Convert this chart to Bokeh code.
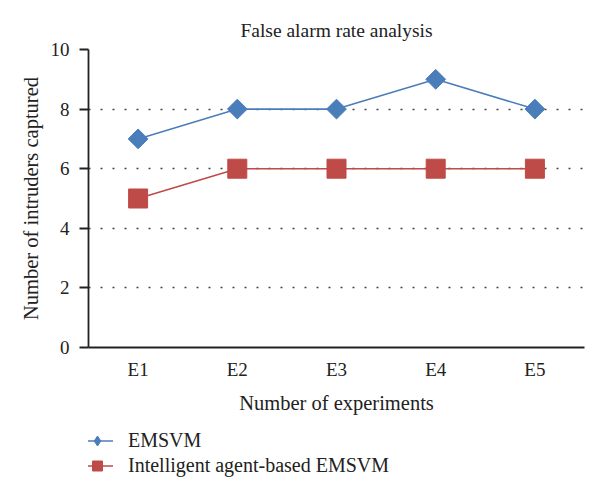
from bokeh.plotting import figure
from bokeh.models import ColumnDataSource, FixedTicker, Legend, LegendItem, Range1d
from bokeh.layouts import column
from bokeh.embed import file_html
from bokeh.resources import INLINE
import math

experiments = ["E1", "E2", "E3", "E4", "E5"]
emsvm = [7, 8, 8, 9, 8]
agent_emsvm = [5, 6, 6, 6, 6]
y_ticks = [0, 2, 4, 6, 8, 10]
series_names = ["EMSVM", "Intelligent agent-based EMSVM"]

FONT = "Liberation Serif"
BLUE = "#4A7EBB"
RED = "#BE4B48"

src = ColumnDataSource(dict(x=experiments, a=emsvm, b=agent_emsvm))

p = figure(width=600, height=420, x_range=experiments, y_range=Range1d(0, 10),
           output_backend="svg", toolbar_location=None,
           title="False alarm rate analysis",
           min_border_left=88, min_border_right=16, min_border_top=49, min_border_bottom=73)

p.title.align = "center"
p.title.text_font = FONT
p.title.text_font_size = "19.5px"
p.title.text_font_style = "normal"
p.title.text_color = "#222222"
p.title.offset = 0
p.title.standoff = 6
p.title.padding = 6

p.outline_line_color = None
p.xgrid.grid_line_color = None
p.ygrid.grid_line_color = "#444444"
p.ygrid.grid_line_dash = "2 10"
p.ygrid.grid_line_width = 1.3
p.ygrid.ticker = FixedTicker(ticks=y_ticks)

p.yaxis.ticker = FixedTicker(ticks=y_ticks)
p.yaxis.minor_tick_line_color = None
p.yaxis.major_tick_out = 9
p.yaxis.major_tick_in = 0
p.yaxis.major_label_standoff = 10
p.yaxis.axis_label = "Number of intruders captured"
p.yaxis.axis_label_standoff = 6

p.xaxis.major_tick_out = 0
p.xaxis.major_tick_in = 0
p.xaxis.major_label_standoff = 11
p.xaxis.axis_label = "Number of experiments"
p.xaxis.axis_label_standoff = 9

for ax in (p.xaxis, p.yaxis):
    ax.axis_line_color = "#222222"
    ax.axis_line_width = 1.8
    ax.major_tick_line_color = "#222222"
    ax.major_tick_line_width = 1.8
    ax.major_label_text_font = FONT
    ax.major_label_text_font_size = "19px"
    ax.major_label_text_color = "#222222"
    ax.axis_label_text_font = FONT
    ax.axis_label_text_font_size = "20.5px"
    ax.axis_label_text_font_style = "normal"
    ax.axis_label_text_color = "#222222"

p.line("x", "a", source=src, line_color=BLUE, line_width=1.6)
p.scatter("x", "a", source=src, marker="square", angle=math.pi / 4, size=14,
          fill_color=BLUE, line_color=BLUE)
p.line("x", "b", source=src, line_color=RED, line_width=1.6)
p.scatter("x", "b", source=src, marker="square", size=19,
          fill_color=RED, line_color=RED)

# legend panel below the chart (placeholder sources hold no drawable points)
q = figure(width=600, height=76, output_backend="svg", toolbar_location=None,
           min_border=0, x_range=Range1d(0, 1), y_range=Range1d(0, 1))
q.axis.visible = False
q.grid.visible = False
q.outline_line_color = None
empty = ColumnDataSource(dict(x=[float("nan")], y=[float("nan")]))
ql1 = q.line("x", "y", source=empty, line_color=BLUE, line_width=1.6)
qs1 = q.scatter("x", "y", source=empty, marker="diamond", size=14,
                fill_color=BLUE, line_color=BLUE)
ql2 = q.line("x", "y", source=empty, line_color=RED, line_width=1.6)
qs2 = q.scatter("x", "y", source=empty, marker="square", size=19,
                fill_color=RED, line_color=RED)

legend = Legend(items=[LegendItem(label=series_names[0], renderers=[ql1, qs1]),
                       LegendItem(label=series_names[1], renderers=[ql2, qs2])],
                location=(-7, 18))
legend.orientation = "vertical"
legend.background_fill_alpha = 0
legend.border_line_color = None
legend.label_text_font = FONT
legend.label_text_font_size = "20px"
legend.label_text_color = "#222222"
legend.glyph_width = 32
legend.glyph_height = 25
legend.label_height = 25
legend.label_standoff = 15
legend.spacing = 0
legend.padding = 0
legend.margin = 0
q.add_layout(legend, "center")

layout = column(p, q, spacing=0)
open("out.html", "w").write(file_html(layout, INLINE))
